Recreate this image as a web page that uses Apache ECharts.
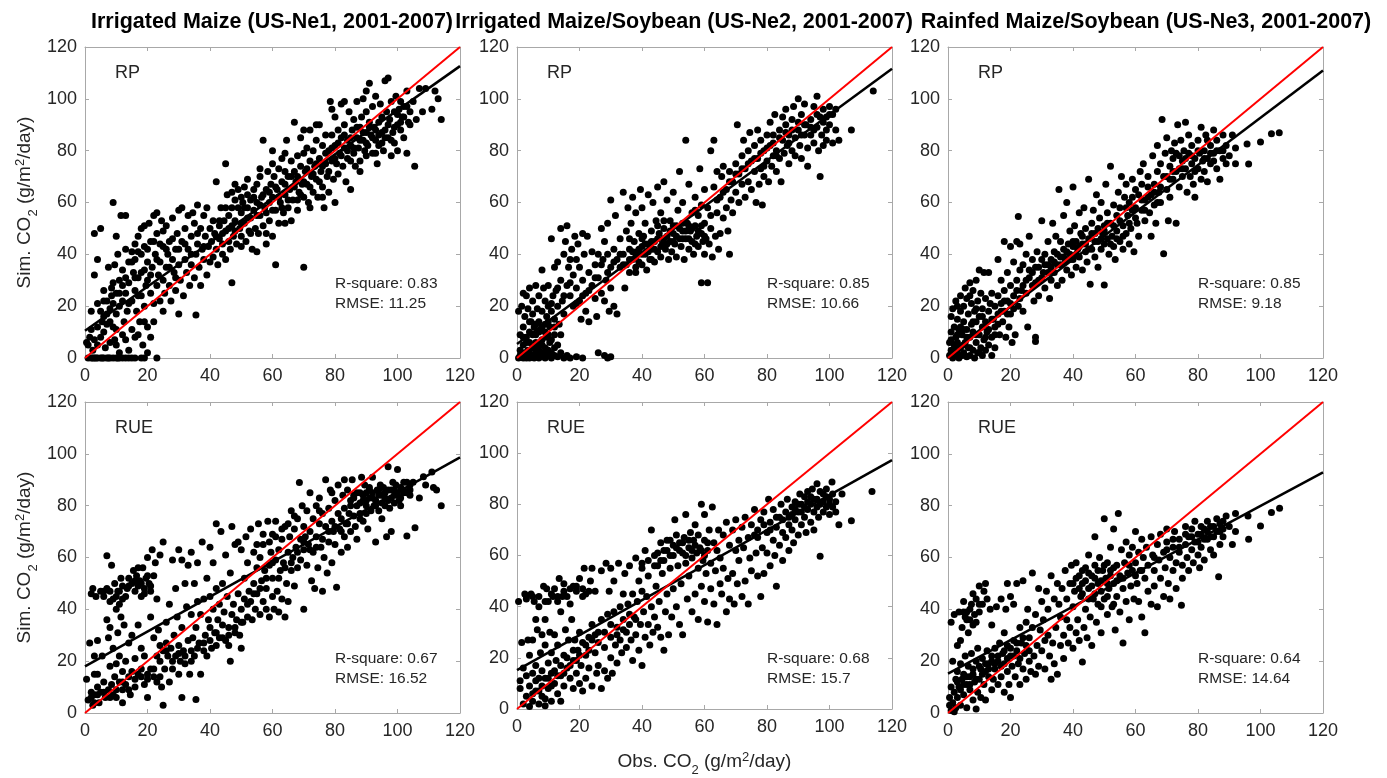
<!DOCTYPE html>
<html><head><meta charset="utf-8">
<script src="https://cdn.jsdelivr.net/npm/echarts@6/dist/echarts.min.js"></script>
<style>html,body{margin:0;padding:0;background:#fff}#c{width:1387px;height:778px}</style>
</head><body><div id="c"></div>
<script>
// ---------------- DATA ----------------
const panelTitles = ["Irrigated Maize (US-Ne1, 2001-2007)", "Irrigated Maize/Soybean (US-Ne2, 2001-2007)", "Rainfed Maize/Soybean (US-Ne3, 2001-2007)"];
const modelNames = ["RP", "RUE"];
const rSquare = ["0.83", "0.85", "0.85", "0.67", "0.68", "0.64"];
const rmse = ["11.25", "10.66", "9.18", "16.52", "15.7", "14.64"];
const fitIntercept = [10.5, 5.4, 1.5, 18.0, 15.2, 15.2];
const fitSlope = [0.851, 0.885, 0.912, 0.672, 0.684, 0.647];
const axisTicks = [0, 20, 40, 60, 80, 100, 120];

const ne1RP = [[1,0],[2,0],[2.5,0],[3,0],[3.5,0],[4,0],[5,0],[5.5,0],[6,0],[7,0],[7.5,0],[8,0],[9,0],[10,0],[10.5,0],[11,0],[12,0],[13,0],[14,0],[15,0],[16,0],[18,0],[19,0],[23,0],
[0.5,6],[1,5],[1.5,8],[2,18],[2.5,3],[3,48],[3,32],[4,38],[4,21],[4,12],[5,50],[5,8],[5.5,14],[6,16],[6,10],[6.5,4],[7,22],[7,13],[7.5,35],[8,6],[8,19],[8.5,24],[8.5,27],[9,60],[9,12],[9,21],[9.5,36],[9.5,7],[10,5],[10,17],[10,25],[10,47],
[10.5,40],[11,20],[11,30],[11,2],[11.5,55],[12,22],[12,9],[12,34],[12.5,14],[13,55],[13,25],[13,42],[13.5,18],[14,3],[14,37],[14,29],[15,22],[15,41],[15,11],[15.5,33],[16,26],[16,8],[16,44],[16.5,18],[17,41],[17,31],[17,47],[17.5,14],[18,50],[18,24],[18,40],[18.5,5],[19,34],[19,20],[19,51],[19.5,28],[20,42],[20,12],[20,2],[20,30],
[20.5,52],[21,25],[21,45],[21.5,35],[22,55],[22,21],[22,14],[22.5,40],[23,28],[23,56],[23,48],[23.5,32],[24,22],[24,37],[24.5,53],[25,30],[25,43],[25,18],[25.5,25],[26,35],[26,51],[26.5,40],[27,28],[27,45],[27.5,22],[28,38],[28,54],[28.5,33],[29,42],[29,26],[29.5,48],[30,36],[30,57],[30,17],
[30.5,30],[31,45],[31,58],[31.5,24],[32,38],[32,50],[32.5,33],[33,55],[33,42],[33.5,28],[34,47],[34,36],[34.5,56],[35,52],[35,31],[35.5,40],[35.5,16.6],[36,59],[36,44],[36.5,35],[37,50],[37,28],[37.5,42],[38,55],[38,38],[38.5,47],[39,32],[39,58],[39.5,43],[40,50],[40,37],
[40.5,45],[41,39],[41,53],[41.5,48],[42,68],[42,42],[42.5,36],[43,51],[43,46],[43.5,58],[44,44],[44,40],[44.5,53],[45,75],[45,49],[45,38],[45.5,63],[46,45],[46,55],[46.5,42],[47,29],[47,51],[47,64],[47.5,47],[48,61],[48,53],[48.5,44],[49,58],[49,65],[49.5,50],[50,62],[50,47],[50,56],
[50.5,60],[51,52],[51,66],[51.5,45],[52,58],[52,63],[52.5,49],[53,61],[53,54],[53.5,42],[54,57],[54,65],[54.5,50],[55,60],[55,67],[55.5,48],[56,55],[56,70],[56.5,62],[57,51],[57,84],[57.5,58],[58,65],[58,48],[58.5,72],[59,60],[59,53],[59.5,67],[60,47],[60,62],[60,80],
[60.5,70],[61,36],[61,57],[61.5,65],[62,73],[62,52],[62.5,60],[63,68],[63,77],[63.5,56],[64,63],[64,72],[64.5,84],[65,58],[65,70],[65.5,65],[66,53],[66,76],[66.5,61],[67,72],[67,91],[67.5,68],[68,57],[68,78],[68.5,64],[69,74],[69,85],[69.5,67],[70,35],[70,62],[70,79],
[70.5,72],[71,67],[71,81],[71.5,60],[72,76],[72,88],[72.5,70],[73,64],[73,80],[73.5,74],[74,69],[74,84],[74.5,62],[75,77],[75,90],[75.5,72],[76,66],[76,82],[76.5,58],[77,75],[77,86],[77.5,70],[78,80],[78,64],[78.5,99],[79,76],[79,86],[79.5,69],[80,82],[80,60],[80,93],
[80.5,75],[81,88],[81,71],[81.5,79],[82,85],[82,98],[82.5,74],[83,81],[83,90],[83.5,68],[84,84],[84,77],[84.5,95],[85,82],[85,65],[85.5,88],[86,79],[86,92],[86.5,74],[87,85],[87,99],[87.5,81],[88,89],[88,76],[88.5,93],[89,84],[89,100],[89.5,80],[90,87],[90,95],
[90.5,82],[91,91],[91,106],[91.5,86],[92,79],[92,97],[92.5,89],[93,84],[93,101],[93.5,75],[94,91],[94,86],[94.5,98],[95,83],[95,93],[95.5,80],[96,88],[96,107],[96.5,95],[97,85],[97,108],[97.5,92],[98,78],[98,99],[98.5,87],[99,95],[99,83],[99.5,101],[100,90],[100,80],
[100.5,96],[101,88],[101,99],[101.5,93],[102,85],[102,97],[103,79],[103,103],[103.5,91],[104,95],[105,99],[105.5,74],[106,92],[107,104],[108,95],[109,104],[111,96],[112,103],[113,100],[114,92],
[42,47],[43,53],[44,48],[46,50],[47,58],[48,49],[50,52],[51,58],[52,54],[53,48],[54,62],[55,55],[56,59],[57,63],[58,56],[59,64],[60,57],[61,66],[62,62],[63,58],[64,67],[65,61],[66,70],[67,66],[68,70],[69,63],[70,68],[71,73],[72,66],[73,71],[74,75],[75,68],[76,74],[77,79],[78,72],[79,81],[80,77],[81,83],[82,78],[83,86],[84,80],[85,85],[86,81],[87,89],[88,84],[89,87],[90,83],[91,89],[92,85],[93,88],[94,82],[95,87],[96,85],[97,90],[98,84],[99,89],[100,94],[101,91],[102,93],[103,97],[104,90],[85,76],[88,72],[90,78],[93,79],[76,62],[72,58],[68,61],[64,52],[58,44],[55,41],[50,43],[45,58],[48,67],[52,69],[56,73],[60,75],[64,79],[70,88],[74,90],[79,96],[83,99],[90,103],
[5,18],[6,22],[7,17],[8,14],[9,29],[10,11],[11,25],[12,28],[13,31],[14,21],[15,37],[16,31],[17,24],[18,33],[19,43],[20,37],[21,32],[22,45],[23,38],[24,44],[25,49],[26,42],[27,35],[28,46],[29,31],[30,42],[32,44],[34,40],[36,48],[38,43],[3,7],[4,5],[2,11],[6,26],[13,7],[17,9],[21,8],[19,14],[16,38]];

const ne2RP = [[0.5,0],[1,1],[1.5,0.5],[2,0],[2.5,2],[3,0],[3,1.5],[3.5,3],[4,0],[4,2],[4.5,0.5],[5,1],[5,4],[5.5,0],[6,2],[6,6],[6.5,1],[7,3],[7,0],[7.5,5],[8,1],[8,7],[8.5,2],[9,0],[9,4],[9.5,8],[10,1],[10,3],[10.5,6],[11,0],[11,2],[12,1],[12,4],[13,0.5],[14,2],[15,0],[16,1],[17,0],[19,0.5],[21,0],[26,2],[28,1],[29,0],[30,0.5],
[0.5,18],[1,9],[1.5,20],[2,12],[2,25],[2.5,16],[3,24],[3,6],[3.5,19],[4,10],[4,27],[4.5,14],[5,22],[5,17],[5.5,12],[6,28],[6,9],[6.5,19],[7,14],[7,24],[7.5,11],[8,34],[8,18],[8.5,27],[9,13],[9,22],[9.5,16],[10,20],[10,28],[10.5,12],[11,46],[11,18],[11.5,24],[12,35],[12,15],[12.5,26],[13,37],[13,20],[13.5,13],[14,30],[14,50],[14.5,22],[15,40],[15,17],[15.5,45],[16,28],[16,51],[16.5,35],[17,24],[17,38],[17.5,42],[18,20],[18,32],[18.5,47],[19,27],[19,38],[19.5,44],[20,22],[20,35],[20.5,15],[21,48],[21,30],[21.5,40],[22,18],[22,25],[22.5,47],[23,33],[23,14],[24,28],[24,41],[25,23],[25,36],[25.5,16],[26,40],[26,31],[27,50],[27,25],[27.5,38],[28,45],[28,22],[28.5,30],[29,52],[29,40],[29.5,18],[30,35],[30,61],[30,27],[31,42],[31,20],[31.5,55],[32,38],[32,17],[33,46],[33,35],[34,64],[34,40],[34.5,27],[35,49],[35,36],[35.5,58],[36,42],[36,33],[36.5,52],[37,38],[37,62],[37.5,45],[38,35],[38,56],[38.5,41],[39,48],[39,37],[39.5,65],[40,43],[40,36],[40,58],
[40.5,47],[41,40],[41,52],[41.5,34],[42,44],[42,63],[42.5,38],[43,49],[43,42],[43.5,60],[44,45],[44,37],[44.5,53],[45,41],[45,66],[45.5,48],[46,39],[46,56],[46.5,44],[47,50],[47,68],[47.5,42],[48,47],[48,61],[48.5,38],[49,45],[49,53],[49.5,41],[50,48],[50,64],[50.5,44],[51,51],[51,39],[51.5,57],[52,46],[52,72],[52.5,43],[53,49],[53,60],[53.5,38],[54,46],[54,84],[54.5,52],[55,42],[55,67],[55.5,49],[56,45],[56,56],[56.5,40],[57,51],[57,62],[57.5,47],[58,43],[58,55],[58.5,73],[59,29],[59,48],[59.5,45],[60,52],[60,40],[60,65],
[60.5,46],[61,29],[61,58],[61.5,44],[62,80],[62,50],[62.5,39],[63,66],[63,84],[63.5,47],[64,56],[64,72],[64.5,42],[65,62],[65,48],[65.5,70],[66,54],[66,74],[67,58],[67,65],[67.5,49],[68,40],[68,72],[68.5,61],[69,68],[69,56],[70,75],[70,64],[70.5,90],[71,71],[71,60],[72,78],[72,67],[72.5,84],[73,73],[73,62],[74,80],[74,68],[74.5,87],[75,76],[75,65],[76,82],[76,72],[76.5,60],[77,88],[77,77],[77.5,67],[78,73],[78,84],[78.5,59],[79,80],[79,70],[80,86],[80,76],
[80.5,68],[81,82],[81,91],[81.5,74],[82,78],[82,86],[82.5,94],[83,80],[83,72],[84,88],[84,77],[84.5,68],[85,84],[85,93],[85.5,79],[86,90],[86,96],[86.5,82],[87,86],[87,75],[88,92],[88,80],[88.5,97],[89,85],[89,78],[90,100],[90,88],[90.5,82],[91,94],[91,77],[92,86],[92,98],[92.5,90],[93,81],[93,74],[94,92],[94,86],[95,97],[95,83],[96,89],[96,101],[96.5,80],[97,70],[97,93],[97.5,86],[98,82],[98,96],[99,88],[99,84],[100,97],[100,90],[101,83],[101,94],[102,96],[102,88],[103,84],[107,88],[114,103],
[1,3],[2,5],[3,8],[4,6],[5,9],[6,4],[7,10],[8,5],[9,10],[10,9],[11,7],[12,9],[13,5],[8,12],[6,13],[4,14],[2,8],[10,14],[12,12],[14,9],
[36,38],[37,41],[38,39],[39,42],[40,40],[41,44],[42,41],[43,45],[44,42],[45,46],[46,43],[47,46],[48,44],[49,49],[50,45],[51,47],[52,50],[53,46],[54,49],[55,46],[56,50],[57,44],[58,49],[59,51],[60,47],[55,51],[53,52],[50,51],[47,53],[45,51],[43,38],[40,46],[38,33],[36,46],[34,36],[33,40],[31,37],[29,33],[27,36],[25,31],[23,26],[21,24],[19,21],[17,29],[15,24],[13,27],[11,21],[57,57],[59,59],[62,55],[64,61],[66,64],[68,68],[70,71],[72,73],[74,75],[76,77],[78,79],[80,81],[82,83],[84,85],[86,87],[88,88],[90,91],[92,90],[94,89],[96,94],[98,91],[100,94],[79,74],[83,78],[87,83],[91,86],[95,88],[99,93]];

const ne3RP = [[0.5,1],[0.5,6],[1,16],[1,3],[1,10],[1.5,0],[1.5,19],[2,5],[2,12],[2,1],[2.5,8],[2.5,22],[3,2],[3,15],[3,6],[3.5,0],[3.5,11],[4,4],[4,18],[4,24],[4.5,1],[4.5,9],[5,14],[5,2],[5,20],[5.5,6],[5.5,27],[6,0.5],[6,11],[6,23],[6.5,4],[6.5,17],[7,8],[7,29],[7,1],[7.5,13],[7.5,21],[8,3],[8,10],[8,26],[8.5,0],[8.5,18],[9,6],[9,14],[9,30],[9.5,2],[9.5,22],[10,9],[10,16],[10,34],[10.5,4],[10.5,25],[11,12],[11,1],[11,19],[11.5,7],[11.5,33],[12,14],[12,3],[12,23],[12.5,10],[13,18],[13,5],[13,33],[13.5,21],[14,8],[14,1],[14,25],[14.5,15],[15,20],[15,4],[15,12],[16,24],[16,17],[16,38],[16.5,9],[17,21],[17,30],[17.5,14],[18,26],[18,45],[18,18],[18.5,8],[19,33],[19,22],[19.5,12],[20,28],[20,43],[20,17],[20.5,6],[21,24],[21,37],[21.5,9],[22,30],[22,45],[22.5,54.6],[22.5,20],[23,34],[23,44],[23.5,26],[24,36],[24,18],[25,40],[25,30],[25.5,12],[26,34],[26,47],[27,28],[27,38],[27.5,22],[28,6.4],[28,35],[28,8],[28.5,41],[29,30],[29,24],[30,38],[30,53],[30.5,33],[31,40],[31,27],[32,36],[32,45],[32.5,23],[33,38],[33,30],[33.5,52],[34,41],[34,33],[34.5,47],[35,36],[35,28],[35.5,65],[36,39],[36,45],[36.5,30],[37,42],[37,55],[37.5,37],[38,60],[38,34],[38.5,44],[39,40],[39,49],[39.5,32],[40,43],[40,38],[40,66],[40.5,51],[41,35],[41,45],[41.5,42],[42,56],[42,39],[42.5,48],[43,34],[43,44],[43.5,58],[44,41],[44,50],[44.5,37],[45,46],[45,69],[45.5,28.5],[46,52],[46,42],[46.5,57],[47,39],[47,48],[47.5,63],[48,45],[48,35],[48.5,54],[49,42],[49,60],[49.5,48],[50,28.2],[50,51],[50,44],[50.5,67],[51,46],[51,56],[51.5,40],[52,52],[52,74],[52.5,47],[53,59],[53,43],[53.5,38],[54,55],[54,49],[54.5,64],[55,45],[55,58],[55.5,70],[56,51],[56,42],[56.5,62],[57,48],[57,67],[57.5,55],[58,44],[58,60],[58.5,50],[59,62],[59,69],[59.5,41],[60,58],[60,65],[60.5,52],[61,63],[61,47],[61.5,72],[62,57],[62,67],[62.5,75],[63,61],[63,53],[64,66],[64,70],[64.5,56],[65,63],[65,47],[65.5,78],[66,67],[66,59],[66.5,52],[67,72],[67,82],[67.5,64],[68,60],[68,75],[68.5,92],[69,40.2],[69,70],[69.5,79],[70,65],[70,85],[70.5,53],[71,74],[71,62],[71.5,80],[72,69],[72,77],[72.5,83],[73,72],[73,52],[73.5,90],[74,78],[74,66],[74.5,84],[75,70],[75,76],[75.5,80],[76,73],[76,91],[76.5,64],[77,79],[77,86],[77.5,70],[78,75],[78,82],[78.5,67],[79,77],[79,62],[80,73],[80,84],[80.5,79],[81,69],[81,89],[81.5,76],[82,80],[82,72],[82.5,86],[83,77],[83,68],[84,82],[84,75],[85,79],[85,88],[86,73],[86,84],[87,69],[87,80],[88,86],[88,77],[89,82],[89,75],[90,78],[91,86],[92,81],[92,75],[95.7,82.6],[96.2,74.9],[100,83.3],[103.5,86.5],[106,86.9],
[1,7],[2,3],[3,9],[4,12],[5,5],[6,8],[7,4],[8,14],[9,9],[10,2],[11,16],[12,8],[13,11],[14,15],[15,9],[16,13],[17,18],[18,22],[19,17],[20,21],[21,19],[22,26],[23,23],[24,28],[25,25],[26,31],[27,33],[28,29],[29,35],[30,31],[31,36],[32,33],[33,35],[34,37],[35,40],[36,36],[37,39],[38,41],[39,38],[40,45],[41,40],[42,43],[43,47],[44,44],[45,42],[46,48],[47,45],[48,50],[49,46],[50,49],[51,52],[52,44],[53,51],[54,46],[55,53],[56,47],[57,58],[58,52],[59,57],[60,54],[62,61],[64,62],[66,64],[68,66],[70,70],[72,72],[74,73],[76,77],[78,78],[80,80],[82,77],[84,79],[86,80],[88,80],[75,73],[79,72],[83,84],[85,76],[73,79],[71,69],[67,60],[63,57],[5,11],[3,20],[7,24],[9,19]];

const ne1RUE = [[0.5,13],[1,5],[1.5,27],[2,8],[2,46],[2.5,3],[2.5,48],[3,15],[3,22],[3,7],[3.5,45],[4,28],[4,10],[4,15],[4.5,4],[5,47],[5,8],[5.5,22],[6,12],[6,45],[6.5,6],[7,48],[7,36],[7,60.7],[7.5,9],[7.5,29],[8,18],[8,33],[8,47],[8.5,57],[8.5,11],[9,44],[9,25],[9,7],[9.5,50],[9.5,14],[10,40],[10,19],[10,6],[10.5,47],[10.5,31],[11,42],[11,12],[11,22],[11.5,37],[11.5,52],[12,16],[12,4],[12,9],[12.5,34],[13,45],[13,11],[13,20],[13.5,48],[14,14],[14,52],[14,27],[14.5,7],[15,50],[15,16],[15,30],[15.5,55],[16,47],[16,13],[16,21],[16.5,53],[17,49],[17,15],[17,34],[17.5,51],[18,14],[18,45],[18,25],[18.5,56],[19,48],[19,11],[19,22],[19.5,52],[20,13],[20,60],[20,6],[20.5,50],[21,17],[21,47],[21,37],[21.5,63],[22,14],[22,53],[22,29],[22.5,58],[23,12],[23,22],[23,44],[23.5,32],[24,14],[24,61],[24,26],[24.5,10],[25,66],[25,24],[25,3],[25.5,17],[26,27],[26,35],[26.5,22],[27,42],[27,12],[27.5,25],[28,59],[28,17],[28.5,30],[29,48],[29,22],[29.5,37],[30,15],[30,63],[30,26],[30.5,20],[31,59],[31,6],[31,33],[31.5,24],[32,50],[32,19],[32.5,41],[33,28],[33,57],[33.5,15],[34,24],[34,62],[34,38],[34.5,29],[35,50],[35,22],[35.5,33],[35.5,5.2],[36,43],[36,58],[36.5,27],[37,15],[37,38],[37.5,66],[38,24],[38,44],[38.5,30],[39,22],[39,52],[39.5,36],[40,28],[40,45],[40,64],[40.5,25],[41,40],[41,58],[41.5,31],[42,26],[42,73],[42,48],[42.5,36],[43,42],[43,29],[43.5,70],[44,34],[44,50],[44.5,39],[45,28],[45,61],[45.5,45],[46,33],[46,26],[46.5,20],[46.5,54],[47,38],[47,72],[47.5,42],[48,31],[48,65],[48.5,36],[49,46],[49,66],[49.5,30],[50,40],[50,25],[50,63],[50.5,35],[51,52],[51,44],[51.5,68],[52,37],[52,58],[52.5,47],[53,43],[53,71],[53.5,36],[54,50],[54,62],[54.5,40],[55,56],[55,46],[55.5,73],[56,38],[56,60],[56.5,51],[57,43],[57,65],[57.5,55],[58,48],[58,40],[58.5,74],[59,57],[59,37],[59.5,62],[60,45],[60,52],[60,69],[60.5,40],[61,59],[61,74],[61.5,47],[62,63],[62,39],[62.5,55],[63,44],[63,67],[63.5,58],[64,37],[64,72],[64.5,50],[65,62],[65,43],[65.5,68],[66,55],[66,78],[66.5,60],[67,71],[67,49],[67.5,64],[68,56],[68,75],[68.6,88.9],[69,67],[69,59],[69.5,80],[70,40],[70,63],[70,72],[70.5,68],[71,57],[71,78],[71.5,65],[72,85],[72,70],[72.5,51],[73,75],[73,62],[73.5,48],[74,80],[74,68],[74.5,56],[75,73],[75,83],[75.5,64],[76,47],[76,77],[76.5,60],[77,72],[77,90],[77.5,54],[78,79],[78,66],[78.5,86],[79,74],[79,58],[79.5,70],[80,82],[80,65],[80.5,48.5],[81,77],[81,88],[81.5,71],[82,75],[82,62],[82.5,84],[83,68],[83,79],[83.5,73],[84,86],[84,64],[84.5,77],[85,82],[85,70],[85.5,90],[86,76],[86,84],[86.5,72],[87,80],[87,67],[88,85],[88,77],[88.5,91],[89,82],[89,74],[89.5,88],[90,80],[90,85],[90.5,71],[91,83],[91,87],[91.5,78],[92,85],[92,91],[92.5,80],[93,82],[93,66],[93.5,86],[94,84],[94,78],[94.5,88],[95,81],[95,75],[95.5,87],[96,83],[96,85],[96.5,68],[97,82],[97,95],[97.5,79],[98,86],[98,70],[98.5,89],[99,84],[99,81],[99.5,88],[100,85],[100,94],[100.5,82],[101,87],[101,80],[102,86],[102,89],[103,68.3],[103,85],[104,88],[104,84],[105,89],[105.6,71.5],[107,83],[108.3,91.2],[109,88],[111,93],[111.5,87],[112.5,86],[114,80],
[85,80],[86,83],[87,85],[88,81],[89,84],[90,82],[91,86],[92,83],[93,80],[94,86],[95,84],[96,80],[97,86],[98,83],[99,86],[100,84],[101,83],[102,85],[103,89],[104,86],[90,77],[88,75],[84,73],[82,70],[80,72],[78,70],[76,67],[74,64],[72,63],[70,66],[68,62],[66,58],[64,56],[62,52],[60,58],[58,52],[56,48],[54,46],[52,42],[50,35],[48,33],[46,30],[44,29],[42,31],[40,33],[38,27],[36,25],[34,20],[32,22],[30,23],[28,20],[26,24],[24,20],[22,17],[20,15],[18,17],[16,10],[14,9],[12,12],[10,9],[8,6],[6,8],[4,7],[3,4],[2,6],[10,45],[11,47],[12,44],[14,49],[16,51],[18,50],[19,46],[20,53],[21,49],[17,56],[12,49],[8,43],[6,47],[55,65],[57,69],[59,66],[61,68],[63,71],[65,73],[67,76],[75,78],[79,85],[83,90]];

const ne2RUE = [[0.5,42],[1,8],[1,11],[1.5,26],[2,2],[2,16],[2.5,45],[3,5],[3,13],[3,44],[3.5,27],[4,1],[4,9],[4,21],[4.5,45],[5,3],[5,14],[5,27],[5.5,42],[6,35],[6,7],[6,17],[6.5,31],[7,2],[7,12],[7,44],[7.5,22],[8,29],[8,5],[8,15],[8.5,48],[9,1.3],[9,25],[9,12],[9,35],[9.5,47],[10,8],[10,18],[10,42],[10.5,30],[11,14],[11,3],[11,22],[11.5,44],[12,10],[12,29],[12,47],[12.5,19],[13,42],[13,6],[13,25],[13.5,51],[14,13],[14,38],[14,3],[14.5,44],[15,21],[15,49],[15,9],[15.5,31],[16,16],[16,44],[16.5,27],[17,12],[17,41],[17.5,35],[18,19],[18,48],[18,8],[18.5,27],[19,46],[19,14],[19.5,23],[20,51],[20,10],[20,30],[20.5,17],[21,47],[21,7],[21.5,55],[22,21],[22,12],[22,45],[23,28],[23,16],[23.5,50],[24,55],[24,9],[24,33],[25,22],[25,46],[25.5,14],[26,30],[26,17],[27,8],[27,35],[27,54],[28,15],[28,24],[28.5,57],[29,37],[29,12],[29.5,46],[30,20],[30,28],[30,55],[30.5,14],[31,38],[31,50],[31.5,25],[32,32],[32,18],[32.5,57],[33,40],[33,27],[33.5,22],[34,45],[34,35],[34.5,53],[35,30],[35,24],[35.5,41],[36,56],[36,33],[36.5,27],[37,45],[37,19],[37.5,36],[38,59],[38,29],[38.5,42],[39,23],[39,50],[39.5,33],[40,46],[40,17],[40,57],[40.5,38],[41,28],[41,62],[41.5,44],[42,33],[42,52],[42.5,25],[43,40],[43,70],[43.5,30],[44,56],[44,36],[44.5,48],[45,61],[45,32],[45.5,42],[46,65],[46,28],[46.5,53],[47,23],[47,58],[47.5,38],[48,62],[48,45],[48.5,29],[49,55],[49,66],[49.5,36],[50,60],[50,47],[50.5,74],[51,63],[51,40],[51.5,56],[52,65],[52,33],[52.5,49],[53,61],[53,29],[53.5,67],[54,57],[54,76],[54.5,43],[55,63],[55,52],[55.5,69],[56,59],[56,38],[56.5,66],[57,45],[57,72],[57.5,61],[58,55],[58,35],[58.5,63],[59,80],[59,48],[59.5,58],[60,66],[60,42],[60,76],[60.5,53],[61,62],[61,34],[61.5,70],[62,57],[62,47],[62.5,79],[63,65],[63,41],[63.5,54],[64,62],[64,33],[64.5,70],[65,49],[65,59],[65.5,45],[66,68],[66,55],[67,73],[67,38],[67.5,51],[68,64],[68,43],[69,70],[69,53],[69.5,41],[70,62],[70,74],[70.5,49],[71,66],[71,58],[72,71],[72,44],[72.5,63],[73,75],[73,50],[74,67],[74,41],[74.5,59],[75,72],[75,54],[76,68],[76,78],[76.5,61],[77,52],[77,70],[78,74],[78,44],[78.5,63],[79,77],[79,53],[80,69],[80,61],[80.5,82],[81,73],[81,56],[82,66],[82,78],[82.5,60],[83,71],[83,48],[84,75],[84,64],[84.5,80],[85,69],[85,58],[86,77],[86,67],[86.5,82],[87,72],[87,62],[88,79],[88,70],[88.5,65],[89,81],[89,74],[90,77],[90,68],[90.5,84],[91,72],[91,80],[92,75],[92,83],[92.5,69],[93,78],[93,85],[94,73],[94,80],[94.5,86],[95,77],[95,70],[96,82],[96,88],[96.5,75],[97,59.7],[97,80],[98,77],[98,84],[99,79],[99,86],[100,76],[100,82],[100.8,88.7],[101,79],[102,81],[102,77],[103,72],[104,84],[107,73.6],[113.6,85],
[47,62],[48,66],[49,60],[50,64],[51,68],[52,62],[53,65],[54,60],[55,66],[56,62],[57,64],[58,68],[59,62],[60,60],[61,65],[46,58],[45,56],[44,60],[42,58],[40,55],[5,6],[6,11],[7,7],[8,9],[9,4],[10,12],[11,9],[12,15],[13,13],[14,17],[15,14],[16,20],[17,17],[18,23],[19,19],[20,21],[21,26],[22,25],[23,23],[24,27],[25,29],[26,26],[28,30],[30,33],[32,29],[34,31],[36,37],[38,35],[3,43],[5,44],[7,40],[9,42],[11,45],[13,44],[15,46],[17,47],[19,48],[21,44],[23,46],[88,76],[90,80],[92,79],[94,83],[96,79],[98,81],[99,83],[100,80],[101,84],[97,85],[95,82],[93,81],[91,77],[89,78],[87,75],[85,74],[83,75],[81,70],[79,72],[77,67]];

const ne3RUE = [[0.5,3],[0.5,6],[1,35],[1,1],[1,10],[1.5,4],[1.5,20],[2,0.5],[2,8],[2,38],[2.5,13],[2.5,2],[3,26],[3,6],[3,16],[3.5,39],[3.5,10],[4,3],[4,28],[4,19],[4.5,13],[4.5,33],[5,7],[5,43],[5,15],[5.5,37],[5.5,22],[6,11],[6,2],[6,39],[6.5,18],[6.5,31],[7,36],[7,9],[7,14],[7.5,42],[7.5,23],[8,5],[8,17],[8,46],[8.5,38],[8.5,12],[9,1.5],[9,20],[9,35],[9.5,8],[9.5,25],[10,13],[10,49],[10,39],[10.5,17],[10.5,6],[11,42],[11,21],[11.5,11],[11.5,47],[12,16],[12,5],[12,50],[12.5,44],[12.5,24],[13,14],[13,19],[13.5,40],[14,9],[14,22],[14,34],[14.5,13],[15,25],[15,17],[15.5,41],[16,11],[16,20],[16.5,27],[17,14],[17,44],[17.5,23],[18,8],[18,31],[18,19],[18.5,40],[19,16],[19,50],[19,26],[19.5,11],[20,22],[20,45],[20,6],[20.5,18],[21,28],[21,42],[21.5,14],[22,24],[22,50],[22.5,19],[23,33],[23,11],[23.5,27],[24,17],[24,51],[24.5,23],[25,13],[25,35],[25.5,40],[26,20],[26,29],[26.5,16],[27,33],[27,54],[27.5,22],[28,15],[28,38],[28.5,26],[29,48],[29,18],[29.5,32],[30,24],[30,43],[30.5,36],[31,28],[31,17],[31.5,47],[32,30],[32,40],[32.5,22],[33,13],[33,53],[33.5,27],[34,44],[34,19],[34.5,33],[35,50],[35,15],[35.5,42],[36,26],[36,37],[36.5,48],[37,30],[37,21],[37.5,55],[38,36],[38,44],[38.5,27],[39,50],[39,33],[39.5,57],[40,41],[40,25],[40.5,47],[41,58],[41,31],[41.5,36],[42,53],[42,28],[42.5,45],[43,19.7],[43,50],[43.5,33],[44,56],[44,40],[44.5,29],[45,48],[45,61],[45.5,37],[46,53],[46,26],[46.5,44],[47,57],[47,68],[47.5,35],[48,50],[48,42],[48.5,60],[49,47],[49,31],[49.5,55],[50,44],[50,75],[50.5,52],[51,58],[51,38],[51.5,48],[52,64],[52,55],[52.5,41],[53,50],[53,71],[53.5,32],[54,57],[54,45],[54.5,77],[55,53],[55,39],[55.5,63],[56,48],[56,27],[56.5,58],[57,66],[57,43],[57.5,54],[58,61],[58,36],[58.5,49],[59,64],[59,55],[59.5,44],[60,58],[60,70],[60.5,50],[61,62],[61,43],[61.5,55],[62,67],[62,37],[62.5,60],[63,52],[63,31],[63.5,64],[64,57],[64,47],[65,68],[65,42],[65.5,61],[66,55],[66,49],[67,65],[67,41],[67.5,59],[68,69],[68,52],[69,62],[69,45],[69.5,56],[70,66],[70,71],[70.5,50],[71,60],[71,44],[72,64],[72,55],[72.5,70],[73,58],[73,48],[74,62],[74,67],[74.7,41.6],[75,57],[75,52],[76,65],[76,72],[76.5,60],[77,68],[77,55],[78,63],[78,71],[78.5,58],[79,66],[79,74],[80,61],[80,69],[80.5,56],[81,72],[81,64],[82,67],[82,59],[83,70],[83,74],[84,63],[84,68],[85,72],[85,61],[86,75],[86.6,52.6],[87,70],[87,65],[88,74],[88,68],[89,76],[90,72],[91,65],[92,77],[92,70],[96,76],[96.2,67],[100,72.2],[103.5,77.4],[106.1,79],
[40,50],[41,52],[42,48],[43,55],[44,51],[45,54],[46,49],[47,52],[48,55],[49,51],[50,57],[51,50],[52,53],[53,56],[54,51],[45,44],[43,46],[47,46],[49,41],[51,45],[53,42],[3,12],[4,9],[5,11],[6,14],[7,11],[8,15],[9,13],[10,18],[11,15],[12,19],[13,17],[14,20],[15,19],[16,22],[17,18],[18,24],[19,21],[20,25],[21,22],[22,27],[23,21],[24,29],[25,26],[26,24],[80,66],[81,69],[82,71],[83,67],[84,72],[85,68],[86,70],[87,73],[88,71],[78,68],[76,69],[74,64],[72,67],[70,63],[66,60],[62,55],[58,57],[56,52],[60,53],[6,36],[7,40],[8,34],[9,44],[5,39],[10,42]];

const panelData = [ne1RP, ne2RP, ne3RP, ne1RUE, ne2RUE, ne3RUE];

// ---------------- LAYOUT ----------------
const FONT = '"Liberation Sans", Arial, sans-serif';
const lefts = [85, 517, 948];
const tops = [47, 402];
const W = 375, H = 311;
const boxColor = '#a8a8a8';
const textColor = '#262626';

function nameStyle() {
  return {color: textColor, fontSize: 19, fontFamily: FONT, lineHeight: 30,
    rich: {sub: {fontSize: 13, fontFamily: FONT, color: textColor, verticalAlign: 'bottom', lineHeight: 30},
           sup: {fontSize: 13, fontFamily: FONT, color: textColor, verticalAlign: 'top', lineHeight: 30, padding: [4, 0, 0, 0]}}};
}

const grids = [], xAxes = [], yAxes = [], series = [], graphics = [];
for (let p = 0; p < 6; p++) {
  const col = p % 3, row = Math.floor(p / 3);
  grids.push({left: lefts[col], top: tops[row], width: W, height: H, show: false, containLabel: false});
  const axisCommon = {
    type: 'value', min: axisTicks[0], max: axisTicks[axisTicks.length - 1], interval: axisTicks[1] - axisTicks[0],
    gridIndex: p, splitLine: {show: false},
    axisLine: {show: true, onZero: false, lineStyle: {color: boxColor, width: 1}},
    axisTick: {show: true, inside: true, length: 4, lineStyle: {color: boxColor}},
  };
  const xMain = Object.assign({}, axisCommon, {
    position: 'bottom',
    axisLabel: {show: true, margin: 9, color: textColor, fontSize: 18, fontFamily: FONT}
  });
  if (p === 4) {
    xMain.name = 'Obs. CO{sub|2} (g/m{sup|2}/day)';
    xMain.nameLocation = 'middle';
    xMain.nameGap = 38;
    xMain.nameTextStyle = nameStyle();
  }
  xAxes.push(xMain);
  xAxes.push(Object.assign({}, axisCommon, {position: 'top', axisLabel: {show: false}}));
  const yMain = Object.assign({}, axisCommon, {
    position: 'left',
    axisLabel: {show: true, margin: 8, color: textColor, fontSize: 18, fontFamily: FONT}
  });
  if (col === 0) {
    yMain.name = 'Sim. CO{sub|2} (g/m{sup|2}/day)';
    yMain.nameLocation = 'middle';
    yMain.nameGap = 45;
    yMain.nameTextStyle = nameStyle();
  }
  yAxes.push(yMain);
  yAxes.push(Object.assign({}, axisCommon, {position: 'right', axisLabel: {show: false}}));

  const xi = p * 2, yi = p * 2;
  series.push({type: 'scatter', xAxisIndex: xi, yAxisIndex: yi, data: panelData[p], symbol: 'circle', symbolSize: 7,
    itemStyle: {color: '#000', opacity: 1}, silent: true, animation: false, z: 2});
  const x0 = axisTicks[0], x1 = axisTicks[axisTicks.length - 1];
  series.push({type: 'line', xAxisIndex: xi, yAxisIndex: yi, data: [[x0, fitIntercept[p] + fitSlope[p] * x0], [x1, fitIntercept[p] + fitSlope[p] * x1]],
    symbol: 'none', lineStyle: {color: '#000', width: 2.5}, silent: true, animation: false, z: 3});
  series.push({type: 'line', xAxisIndex: xi, yAxisIndex: yi, data: [[x0, x0], [x1, x1]],
    symbol: 'none', lineStyle: {color: '#ff0000', width: 2}, silent: true, animation: false, z: 4});

  graphics.push({type: 'text', x: lefts[col] + 30, y: tops[row] + 26, style: {text: modelNames[row], fontSize: 18, fontFamily: FONT, fill: textColor, align: 'left', verticalAlign: 'middle'}});
  const sy = row === 0 ? tops[row] + H - 74 : tops[row] + H - 54;
  graphics.push({type: 'text', x: lefts[col] + 250, y: sy, style: {text: 'R-square: ' + rSquare[p], fontSize: 15.5, fontFamily: FONT, fill: textColor, align: 'left', verticalAlign: 'middle'}});
  graphics.push({type: 'text', x: lefts[col] + 250, y: sy + 20, style: {text: 'RMSE: ' + rmse[p], fontSize: 15.5, fontFamily: FONT, fill: textColor, align: 'left', verticalAlign: 'middle'}});
}
const titleCenters = [272, 684, 1146];
for (let c = 0; c < 3; c++) {
  graphics.push({type: 'text', x: titleCenters[c], y: 22, style: {text: panelTitles[c], fontSize: 21.5, fontWeight: 'bold', fontFamily: FONT, fill: '#000', align: 'center', verticalAlign: 'middle'}});
}

const chart = echarts.init(document.getElementById('c'), null, {renderer: 'canvas'});
chart.setOption({
  animation: false,
  backgroundColor: '#fff',
  grid: grids, xAxis: xAxes, yAxis: yAxes, series: series, graphic: graphics
});
</script></body></html>
